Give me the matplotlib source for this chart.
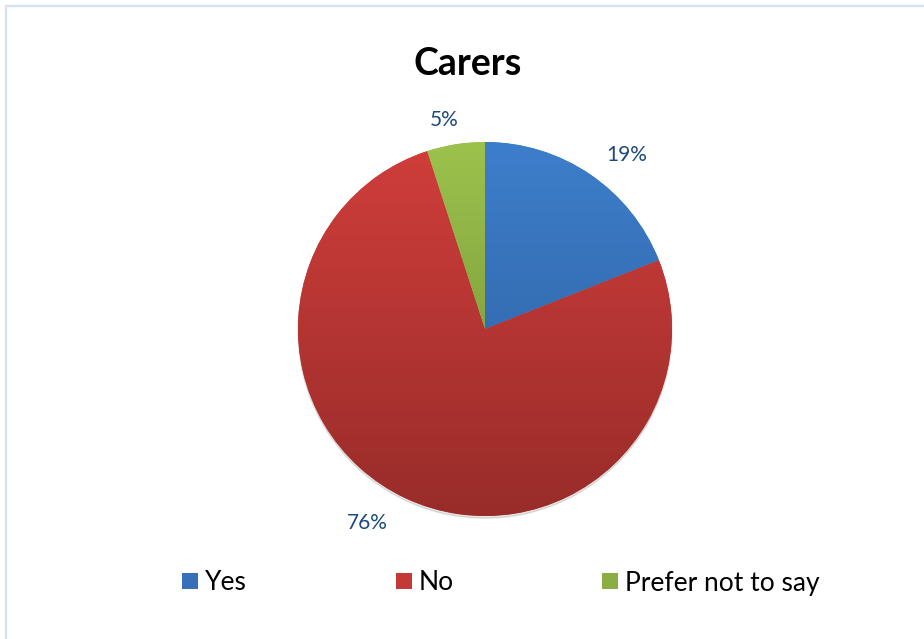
import numpy as np
import matplotlib
matplotlib.use("Agg")
import matplotlib.pyplot as plt
from matplotlib.colors import LinearSegmentedColormap
from matplotlib.patches import Rectangle
from matplotlib.lines import Line2D

title = "Carers"
categories = ["Yes", "No", "Prefer not to say"]
values = [19, 76, 5]
top_colors = ["#3d7ecb", "#d03e3b", "#9cc24c"]
bottom_colors = ["#2c5d9b", "#982c29", "#6e8b34"]
legend_colors = ["#3670b8", "#c23935", "#8aad44"]

W, H = 924, 639
fig = plt.figure(figsize=(W / 100, H / 100), dpi=100)
ax = fig.add_axes([0, 0, 1, 1])
cx, cy, R = 485, 329, 187

shadow = plt.Circle((0.0, -0.012), 1.0, color="#000000", alpha=0.10, zorder=0)
ax.add_patch(shadow)

wedges, _ = ax.pie(values, startangle=90, counterclock=False, radius=1.0,
                   colors=top_colors, wedgeprops=dict(linewidth=0), frame=False)

grad = np.linspace(0, 1, 256).reshape(-1, 1)
for w, c1, c2 in zip(wedges, top_colors, bottom_colors):
    cmap = LinearSegmentedColormap.from_list("g", [c2, c1])
    im = ax.imshow(grad, cmap=cmap, extent=[-1, 1, -1, 1], origin="lower",
                   aspect="auto", zorder=w.get_zorder() + 0.1)
    im.set_clip_path(w)
ax.set_xlim(-cx / R, (W - cx) / R)
ax.set_ylim(-(H - cy) / R, cy / R)
ax.set_aspect("equal")
ax.axis("off")

total = sum(values)
start = 90.0
label_dist = [1.20, 1.21, 1.14]
label_shift = [-5, -6, 2]
for v, d, s in zip(values, label_dist, label_shift):
    span = v / total * 360
    mid = np.deg2rad(start - span / 2 + s)
    ax.text(d * np.cos(mid), d * np.sin(mid), f"{v}%", ha="center", va="center",
            fontsize=15, color="#1f497d", family="Lato")
    start -= span

fig.text(468 / W, 1 - 64 / H, title, ha="center", va="center",
         fontsize=27, fontweight="bold", family="Lato")

handles = [Line2D([0], [0], marker="s", linestyle="none", markersize=11.5,
                  markerfacecolor=c, markeredgewidth=0) for c in legend_colors]
fig.legend(handles, categories, loc="center", bbox_to_anchor=(501 / W, 1 - 583 / H),
           ncol=3, frameon=False, columnspacing=5.65, handletextpad=0.25,
           handlelength=0.6, prop=dict(family="Lato", size=19))

fig.patches.append(Rectangle((6 / W, -0.01), 1.1, 1 - 5.5 / H + 0.01, transform=fig.transFigure,
                             fill=False, edgecolor="#d5e1f1", linewidth=1.6))
fig.savefig("out.png", dpi=100)
